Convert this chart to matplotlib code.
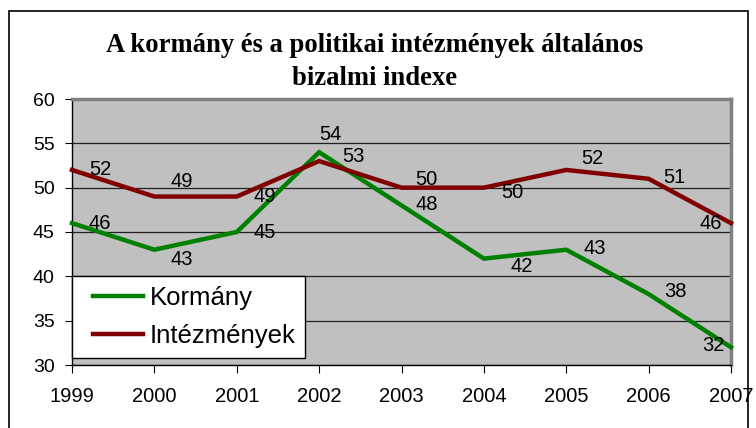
import matplotlib
matplotlib.use("Agg")
import matplotlib.pyplot as plt
from matplotlib.patches import Rectangle
from matplotlib.legend_handler import HandlerLine2D

years = [1999, 2000, 2001, 2002, 2003, 2004, 2005, 2006, 2007]
kormany = [46, 43, 45, 54, 48, 42, 43, 38, 32]
intezmenyek = [52, 49, 49, 53, 50, 50, 52, 51, 46]
title_lines = ["A kormány és a politikai intézmények általános", "bizalmi indexe"]
series_names = ["Kormány", "Intézmények"]

# label offsets in pixels (dx, dy) relative to the point
off_k = [(28, 0), (27, -10), (28, 0), (11, 18), (25, 1), (38, -8), (28, 1), (27, 3), (-18, 2)]
off_i = [(28, 0), (27, 15), (28, 0), (34, 5), (25, 8), (29, -5), (26, 11), (26, 1), (-20, 0)]

W, H = 756, 428
fig = plt.figure(figsize=(W / 100, H / 100), dpi=100)
fig.patch.set_facecolor("white")
# outer frame
fig.patches.append(Rectangle((9 / W, -0.01), 739 / W, (H - 11) / H + 0.01,
                             transform=fig.transFigure, fill=False,
                             edgecolor="black", linewidth=1.2))

L, R, T, B = 72, 731, 99, 365
ax = fig.add_axes([L / W, (H - B) / H, (R - L) / W, (B - T) / H])
ax.set_facecolor("#C0C0C0")
ax.set_xlim(years[0], years[-1])
ax.set_ylim(30, 60)
ax.set_yticks(range(30, 61, 5))
ax.set_xticks(years)
ax.set_xticklabels([str(y) for y in years])
for s in ["top", "right"]:
    ax.spines[s].set_color("#808080")
    ax.spines[s].set_linewidth(2.5)
for s in ["left", "bottom"]:
    ax.spines[s].set_color("black")
    ax.spines[s].set_linewidth(1.0)
ax.grid(axis="y", color="#202020", linewidth=0.9)
ax.set_axisbelow(True)
ax.tick_params(axis="y", direction="out", length=5, labelsize=14, pad=7.5)
ax.tick_params(axis="x", direction="out", length=5.5, labelsize=14.5, pad=10)
for lab in ax.get_xticklabels() + ax.get_yticklabels():
    lab.set_fontfamily("Liberation Sans")

l1, = ax.plot(years, kormany, color="#008000", linewidth=3.2, label=series_names[0],
              solid_joinstyle="miter", clip_on=False, zorder=3)
l2, = ax.plot(years, intezmenyek, color="#800000", linewidth=3.2, label=series_names[1],
              solid_joinstyle="miter", clip_on=False, zorder=3)

for x, y, (dx, dy) in zip(years, kormany, off_k):
    ax.annotate(str(y), (x, y), xytext=(dx, dy), textcoords="offset pixels",
                ha="center", va="center", fontsize=14.5, family="Liberation Sans",
                zorder=4, annotation_clip=False)
for x, y, (dx, dy) in zip(years, intezmenyek, off_i):
    ax.annotate(str(y), (x, y), xytext=(dx, dy), textcoords="offset pixels",
                ha="center", va="center", fontsize=14.5, family="Liberation Sans",
                zorder=4, annotation_clip=False)

leg = ax.legend(handles=[l1, l2], loc="lower left", bbox_to_anchor=(0.0, 7 / (B - T)),
                prop={"family": "Liberation Sans", "size": 18.5}, frameon=True,
                fancybox=False, borderpad=0.38, handlelength=2.4, handletextpad=0.25,
                labelspacing=0.55, borderaxespad=0,
                handler_map={l1: HandlerLine2D(xpad=0.45), l2: HandlerLine2D(xpad=0.45)})
leg.get_frame().set_edgecolor("black")
leg.get_frame().set_linewidth(1.0)
leg.get_frame().set_facecolor("white")
leg.get_frame().set_alpha(1)
leg.set_zorder(5)

for line, base in zip(title_lines, [52, 85]):
    fig.text(375 / W, 1 - base / H, line, ha="center", va="baseline",
             fontsize=19.2, fontweight="bold", family="Liberation Serif")

fig.savefig("out.png", dpi=100)
